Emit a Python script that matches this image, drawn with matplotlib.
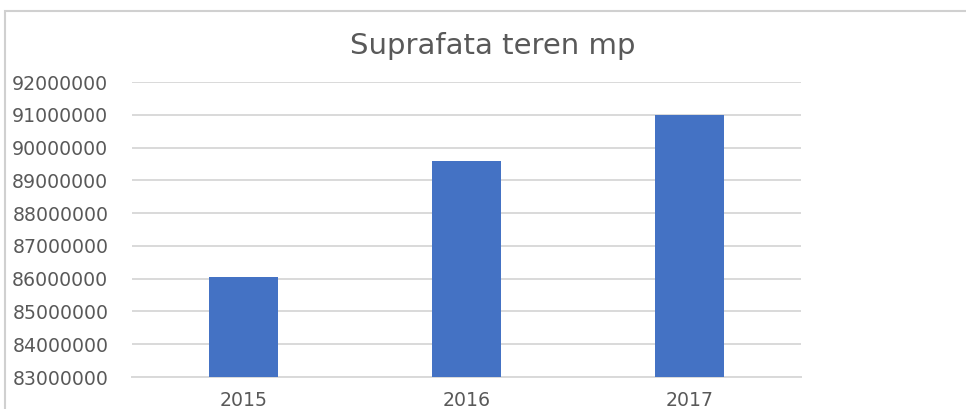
import matplotlib.pyplot as plt
from matplotlib.patches import Rectangle

years = ['2015', '2016', '2017']
suprafata = [86050000, 89580000, 90980000]
y_ticks = [83000000, 84000000, 85000000, 86000000, 87000000,
           88000000, 89000000, 90000000, 91000000, 92000000]

text_color = '#595959'
grid_color = '#d9d9d9'

fig = plt.figure(figsize=(9.66, 4.09), dpi=100)
ax = fig.add_axes([0.1366, 0.0782, 0.6925, 0.7213])

ax.bar(range(len(years)), suprafata, width=0.31, color='#4472C4', zorder=3)

ax.set_xlim(-0.5, len(years) - 0.5)
ax.set_ylim(y_ticks[0], y_ticks[-1])
ax.set_yticks(y_ticks)
ax.set_yticklabels([str(v) for v in y_ticks])
ax.set_xticks(range(len(years)))
ax.set_xticklabels(years)

ax.grid(axis='y', color=grid_color, linewidth=1.4, zorder=0)
ax.set_axisbelow(True)
for side in ['top', 'right', 'left']:
    ax.spines[side].set_visible(False)
ax.spines['bottom'].set_color(grid_color)
ax.spines['bottom'].set_linewidth(1.4)

ax.tick_params(axis='y', length=0, pad=17, labelsize=13.6, labelcolor=text_color)
ax.tick_params(axis='x', length=0, pad=10, labelsize=13.6, labelcolor=text_color)
for lbl in ax.get_xticklabels() + ax.get_yticklabels():
    lbl.set_family('DejaVu Sans')

fig.text(0.51, 0.888, 'Suprafata teren mp', ha='center', va='center',
         fontsize=21, color=text_color, family='DejaVu Sans')

# chart area border (top and left edges visible)
fig.patches.append(Rectangle((5 / 966, -0.1), 1.2, 1 - 11 / 409 + 0.1,
                             transform=fig.transFigure, fill=False,
                             edgecolor='#d0d0d0', linewidth=1.5))

fig.savefig('out.png', dpi=100)
